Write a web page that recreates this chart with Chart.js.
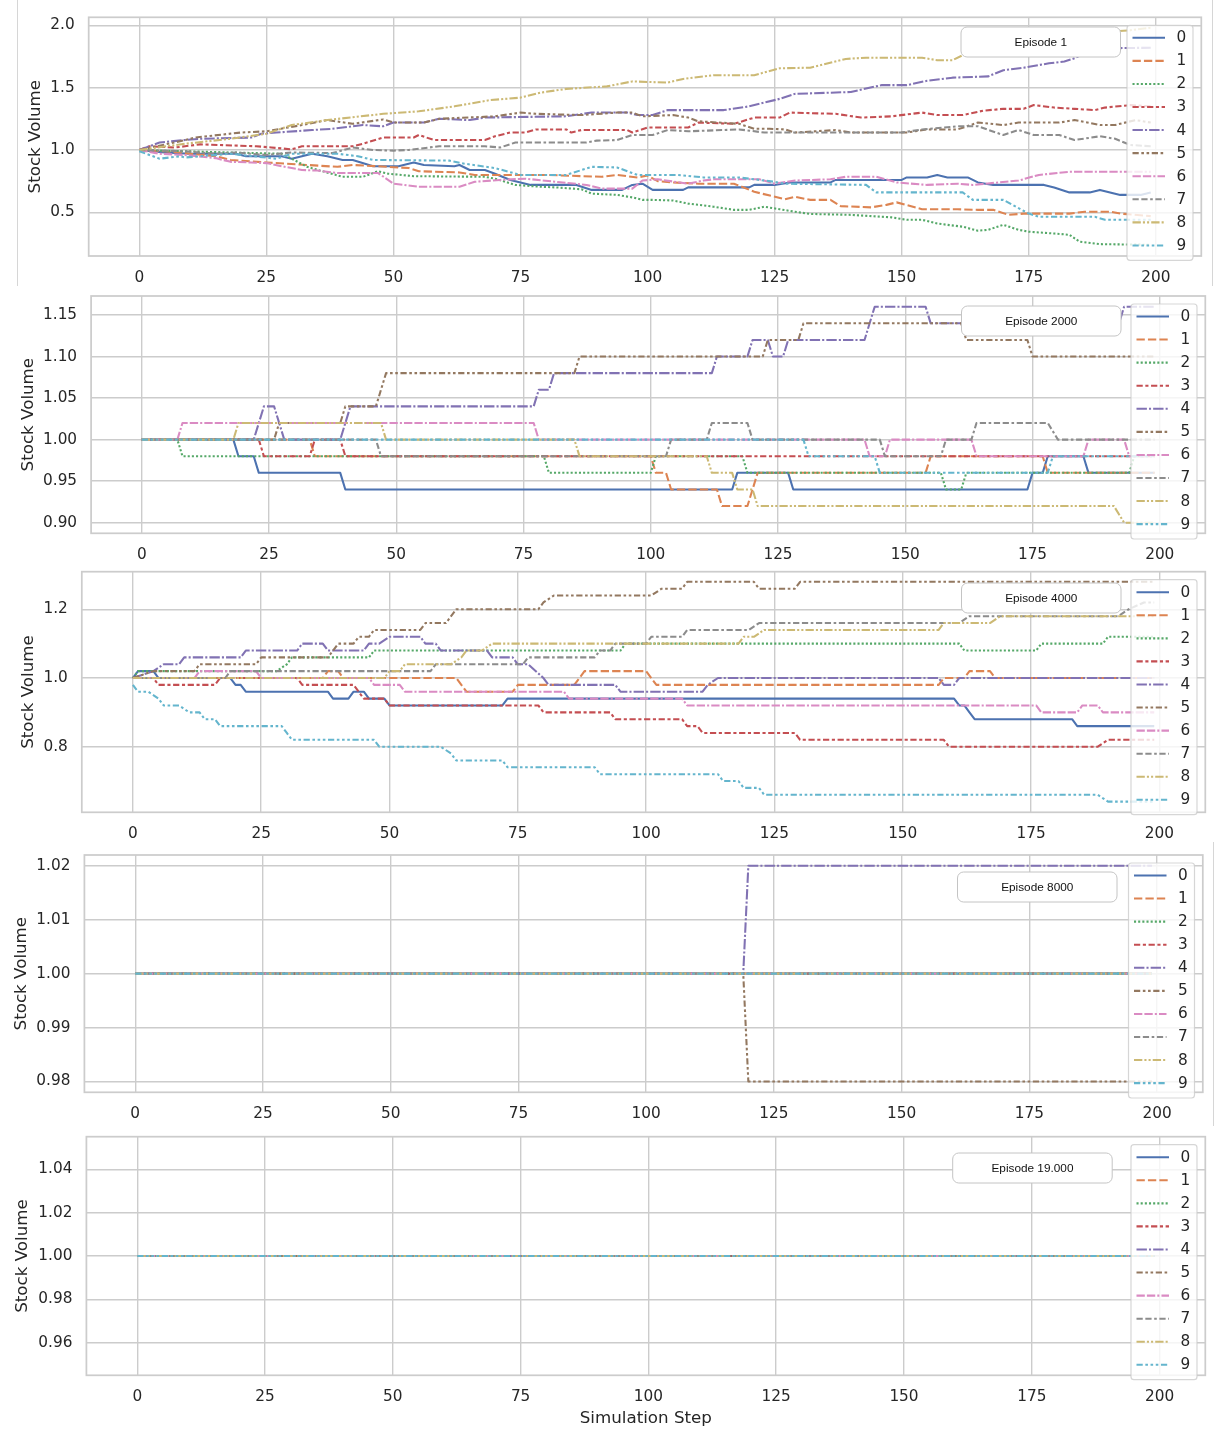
<!DOCTYPE html>
<html><head><meta charset="utf-8">
<script src="https://cdn.jsdelivr.net/npm/chart.js@4.4.1/dist/chart.umd.min.js"></script>
<style>
html,body{margin:0;padding:0;background:#fff;}
body{width:1214px;height:1430px;position:relative;overflow:hidden;}
canvas{position:absolute;left:0;}
.edge{position:absolute;background:#d6d6d6;width:1px;}
</style></head><body>
<div class="edge" style="left:17px;top:0;height:286px"></div>
<div class="edge" style="left:1212px;top:0;height:286px"></div>
<div class="edge" style="left:1213px;top:842px;height:284px"></div>
<canvas id="c0" width="1214" height="287" style="top:0px"></canvas>
<canvas id="c1" width="1214" height="276" style="top:287px"></canvas>
<canvas id="c2" width="1214" height="280" style="top:563px"></canvas>
<canvas id="c3" width="1214" height="282" style="top:843px"></canvas>
<canvas id="c4" width="1214" height="305" style="top:1125px"></canvas>
<script>
// ---------------- DATA ----------------
const seriesNames = ['0','1','2','3','4','5','6','7','8','9'];
const xTicks = [0, 25, 50, 75, 100, 125, 150, 175, 200];
const yTicksEp1 = [0.5, 1.0, 1.5, 2.0];
const yTicksEp2000 = [0.90, 0.95, 1.00, 1.05, 1.10, 1.15];
const yTicksEp4000 = [0.8, 1.0, 1.2];
const yTicksEp8000 = [0.98, 0.99, 1.00, 1.01, 1.02];
const yTicksEp19000 = [0.96, 0.98, 1.00, 1.02, 1.04];
const episodeLabels = ['Episode 1', 'Episode 2000', 'Episode 4000', 'Episode 8000', 'Episode 19.000'];

// vertices [step, stock volume]
const ep1 = [
 [[0,1],[5,0.98],[10,0.97],[19,0.97],[21,0.95],[28,0.95],[30,0.93],[34,0.97],[37,0.95],[40,0.92],[42,0.92],[46,0.87],[51,0.87],[54,0.90],[56,0.88],[62,0.87],[63,0.88],[65,0.84],[68,0.84],[70,0.81],[73,0.76],[77,0.72],[86,0.72],[89,0.68],[95,0.68],[97,0.72],[99,0.73],[101,0.68],[107,0.68],[108,0.70],[120,0.70],[121,0.72],[125,0.72],[128,0.74],[136,0.74],[137,0.76],[150,0.76],[151,0.78],[155,0.78],[157,0.80],[159,0.78],[163,0.78],[165,0.74],[168,0.72],[178,0.72],[180,0.70],[183,0.66],[187,0.66],[189,0.68],[191,0.66],[193,0.64],[197,0.64],[199,0.66]],
 [[0,1],[5,0.99],[9,0.975],[15,0.95],[18,0.92],[25,0.90],[29,0.89],[39,0.865],[42,0.88],[49,0.865],[53,0.855],[55,0.83],[63,0.82],[66,0.80],[80,0.80],[91,0.785],[94,0.80],[98,0.78],[100,0.795],[102,0.75],[105,0.74],[110,0.73],[117,0.73],[121,0.665],[127,0.605],[129,0.625],[132,0.60],[136,0.60],[138,0.55],[144,0.54],[147,0.56],[149,0.58],[154,0.525],[161,0.525],[165,0.52],[168,0.52],[171,0.48],[174,0.49],[183,0.49],[186,0.505],[191,0.505],[193,0.49],[199,0.47]],
 [[0,1],[9,0.99],[18,0.98],[28,0.97],[30,0.93],[33,0.865],[36,0.83],[40,0.785],[44,0.785],[47,0.83],[49,0.81],[54,0.79],[68,0.785],[70,0.77],[74,0.72],[79,0.705],[82,0.70],[87,0.685],[89,0.65],[94,0.64],[97,0.62],[99,0.60],[101,0.60],[105,0.595],[108,0.57],[113,0.545],[117,0.52],[120,0.52],[123,0.545],[126,0.525],[129,0.505],[132,0.487],[140,0.48],[148,0.46],[151,0.44],[154,0.44],[157,0.41],[162,0.385],[165,0.353],[167,0.36],[170,0.40],[173,0.36],[175,0.345],[180,0.33],[183,0.32],[185,0.265],[189,0.245],[199,0.24]],
 [[0,1],[2,1.03],[7,1.02],[9,1.03],[12,1.045],[23,1.03],[26,1.02],[30,1.005],[32,1.03],[42,1.03],[44,1.05],[48,1.10],[54,1.10],[55,1.12],[58,1.08],[68,1.08],[70,1.11],[73,1.14],[76,1.14],[78,1.165],[84,1.165],[85,1.14],[87,1.16],[96,1.16],[97,1.14],[100,1.18],[108,1.18],[110,1.22],[117,1.21],[121,1.26],[126,1.26],[128,1.30],[137,1.29],[142,1.26],[148,1.27],[154,1.30],[157,1.28],[162,1.28],[166,1.315],[170,1.33],[174,1.33],[176,1.36],[180,1.34],[184,1.33],[188,1.32],[190,1.34],[195,1.36],[199,1.35]],
 [[0,1],[4,1.06],[9,1.08],[12,1.09],[22,1.10],[24,1.13],[27,1.14],[34,1.16],[38,1.17],[44,1.20],[48,1.19],[50,1.22],[56,1.22],[59,1.25],[65,1.24],[68,1.26],[84,1.27],[89,1.30],[96,1.30],[98,1.28],[101,1.28],[104,1.32],[115,1.32],[120,1.35],[126,1.41],[129,1.45],[140,1.465],[146,1.52],[151,1.52],[155,1.555],[160,1.58],[167,1.59],[170,1.64],[174,1.66],[179,1.695],[182,1.71],[184,1.735],[186,1.775],[189,1.815],[199,1.82]],
 [[0,1],[8,1.07],[11,1.10],[20,1.14],[25,1.15],[32,1.20],[37,1.24],[42,1.21],[48,1.245],[50,1.22],[56,1.22],[59,1.25],[70,1.27],[75,1.30],[78,1.29],[87,1.28],[94,1.30],[97,1.30],[99,1.27],[105,1.28],[108,1.26],[110,1.23],[118,1.21],[121,1.17],[124,1.17],[127,1.165],[129,1.14],[137,1.16],[140,1.14],[151,1.14],[155,1.165],[161,1.165],[165,1.22],[170,1.20],[173,1.22],[181,1.22],[184,1.24],[189,1.20],[192,1.20],[196,1.24],[199,1.22]],
 [[0,1],[4,0.97],[9,0.96],[15,0.935],[18,0.905],[22,0.90],[25,0.895],[28,0.87],[32,0.84],[35,0.835],[39,0.815],[47,0.815],[50,0.73],[55,0.705],[63,0.705],[66,0.745],[71,0.76],[76,0.77],[88,0.72],[91,0.69],[97,0.69],[99,0.755],[102,0.765],[108,0.73],[111,0.755],[113,0.765],[122,0.765],[125,0.73],[129,0.755],[136,0.765],[139,0.785],[145,0.785],[149,0.74],[155,0.72],[161,0.73],[164,0.72],[173,0.755],[177,0.80],[183,0.825],[199,0.825]],
 [[0,1],[9,0.99],[15,0.97],[19,0.98],[25,0.96],[30,0.98],[38,0.975],[42,1.02],[46,1.0],[50,0.995],[53,1.0],[59,1.03],[68,1.03],[71,1.02],[74,1.06],[88,1.06],[90,1.075],[94,1.08],[97,1.12],[101,1.12],[104,1.16],[108,1.15],[118,1.165],[123,1.14],[150,1.14],[154,1.165],[161,1.19],[165,1.19],[170,1.12],[173,1.16],[176,1.12],[181,1.12],[184,1.08],[189,1.11],[192,1.09],[195,1.04],[199,1.03]],
 [[0,1],[9,1.05],[18,1.09],[25,1.13],[30,1.20],[37,1.24],[48,1.29],[55,1.31],[62,1.35],[69,1.40],[75,1.42],[79,1.46],[84,1.49],[92,1.51],[97,1.55],[104,1.54],[107,1.57],[113,1.60],[121,1.60],[126,1.655],[132,1.66],[139,1.73],[143,1.74],[154,1.74],[157,1.72],[160,1.72],[163,1.78],[168,1.82],[175,1.86],[182,1.90],[188,1.94],[195,1.96],[199,1.98]],
 [[0,0.99],[4,0.93],[8,0.95],[9,0.94],[18,0.97],[27,0.93],[30,0.97],[39,0.97],[43,0.95],[46,0.92],[61,0.915],[64,0.89],[70,0.855],[75,0.80],[84,0.80],[89,0.865],[94,0.86],[98,0.80],[106,0.80],[111,0.78],[118,0.78],[125,0.745],[127,0.73],[143,0.72],[145,0.66],[162,0.66],[164,0.60],[170,0.60],[175,0.49],[177,0.465],[188,0.465],[190,0.44],[199,0.44]]
];

const ep2000 = [
 [[0,1],[18,1],[19,0.98],[22,0.98],[23,0.96],[39,0.96],[40,0.94],[116,0.94],[117,0.96],[127,0.96],[128,0.94],[174,0.94],[175,0.96],[177,0.96],[178,0.98],[185,0.98],[186,0.96],[199,0.96]],
 [[0,1],[33,1],[34,0.98],[100,0.98],[101,0.96],[103,0.96],[104,0.94],[113,0.94],[114,0.92],[119,0.92],[121,0.96],[154,0.96],[155,0.98],[177,0.98],[178,0.96],[199,0.96]],
 [[0,1],[7,1],[8,0.98],[79,0.98],[80,0.96],[100,0.96],[101,0.98],[118,0.98],[119,0.96],[157,0.96],[158,0.94],[161,0.94],[162,0.96],[194,0.96],[195,0.98],[199,0.98]],
 [[0,1],[23,1],[24,0.98],[33,0.98],[34,1],[39,1],[40,0.98],[199,0.98]],
 [[0,1],[22,1],[24,1.04],[26,1.04],[28,1.0],[39,1.0],[41,1.04],[77,1.04],[78,1.06],[80,1.06],[81,1.08],[112,1.08],[113,1.10],[119,1.10],[120,1.12],[123,1.12],[124,1.10],[126,1.10],[127,1.12],[142,1.12],[144,1.16],[154,1.16],[155,1.14],[192,1.14],[193,1.16],[199,1.16]],
 [[0,1],[26,1],[27,1.02],[39,1.02],[40,1.04],[46,1.04],[48,1.08],[85,1.08],[86,1.10],[122,1.10],[123,1.12],[129,1.12],[130,1.14],[161,1.14],[162,1.12],[174,1.12],[175,1.10],[199,1.10]],
 [[0,1],[7,1],[8,1.02],[77,1.02],[78,1.0],[142,1.0],[143,0.98],[146,0.98],[147,1.0],[163,1.0],[164,0.98],[185,0.98],[186,1.0],[193,1.0],[194,0.98],[199,0.98]],
 [[0,1],[46,1],[47,0.98],[103,0.98],[104,1.0],[111,1.0],[112,1.02],[119,1.02],[120,1.0],[145,1.0],[146,0.98],[157,0.98],[158,1.0],[163,1.0],[164,1.02],[178,1.02],[180,1.0],[199,1.0]],
 [[0,1],[18,1],[19,1.02],[47,1.02],[48,1.0],[85,1.0],[86,0.98],[111,0.98],[112,0.96],[116,0.96],[117,0.94],[120,0.94],[121,0.92],[191,0.92],[193,0.90],[199,0.90]],
 [[0,1],[130,1],[131,0.98],[144,0.98],[145,0.96],[178,0.96],[179,0.98],[199,0.98]]
];

const ep4000 = [
 [[0,1],[1,1.02],[4,1.02],[5,1.0],[19,1.0],[20,0.98],[21,0.98],[22,0.96],[38,0.96],[39,0.94],[42,0.94],[43,0.96],[45,0.96],[46,0.94],[49,0.94],[50,0.92],[72,0.92],[73,0.94],[160,0.94],[161,0.92],[162,0.92],[163,0.90],[164,0.88],[183,0.88],[184,0.86],[199,0.86]],
 [[0,1],[37,1],[38,1.02],[40,1.02],[41,1.0],[63,1.0],[64,0.98],[65,0.96],[74,0.96],[75,0.98],[86,0.98],[88,1.02],[100,1.02],[102,0.98],[157,0.98],[158,1.0],[162,1.0],[163,1.02],[167,1.02],[168,1.0],[199,1.0]],
 [[0,1],[1,1.02],[28,1.02],[30,1.04],[31,1.06],[46,1.06],[47,1.08],[95,1.08],[96,1.10],[161,1.10],[162,1.08],[176,1.08],[177,1.10],[189,1.10],[190,1.12],[199,1.12]],
 [[0,1],[4,1],[5,0.98],[16,0.98],[17,1.0],[32,1.0],[33,0.98],[43,0.98],[45,0.94],[49,0.94],[50,0.92],[79,0.92],[80,0.90],[93,0.90],[94,0.88],[107,0.88],[108,0.86],[110,0.86],[111,0.84],[129,0.84],[130,0.82],[158,0.82],[159,0.80],[188,0.80],[190,0.82],[199,0.82]],
 [[0,1],[4,1.02],[6,1.04],[9,1.04],[10,1.06],[21,1.06],[22,1.08],[32,1.08],[33,1.10],[37,1.10],[38,1.08],[45,1.08],[46,1.10],[48,1.10],[50,1.12],[56,1.12],[57,1.10],[59,1.10],[60,1.08],[69,1.08],[70,1.06],[74,1.06],[75,1.04],[77,1.04],[80,1.0],[81,0.98],[94,0.98],[95,0.96],[111,0.96],[112,0.98],[114,1.0],[157,1.0],[158,0.98],[160,0.98],[161,1.0],[199,1.0]],
 [[0,1],[4,1.02],[12,1.02],[13,1.04],[24,1.04],[25,1.06],[38,1.06],[39,1.08],[40,1.10],[43,1.10],[44,1.12],[46,1.12],[47,1.14],[56,1.14],[57,1.16],[61,1.16],[62,1.18],[63,1.20],[79,1.20],[80,1.22],[82,1.24],[101,1.24],[103,1.26],[107,1.26],[108,1.28],[121,1.28],[122,1.26],[129,1.26],[130,1.28],[199,1.28]],
 [[0,1],[12,1],[13,1.02],[24,1.02],[25,1.0],[46,1.0],[47,0.98],[52,0.98],[53,0.96],[84,0.96],[85,0.94],[107,0.94],[108,0.92],[176,0.92],[177,0.90],[184,0.90],[185,0.92],[188,0.92],[189,0.90],[199,0.90]],
 [[0,1],[18,1],[19,1.02],[58,1.02],[59,1.04],[76,1.04],[77,1.06],[90,1.06],[91,1.08],[93,1.08],[94,1.10],[100,1.10],[101,1.12],[107,1.12],[108,1.14],[120,1.14],[122,1.16],[161,1.16],[163,1.18],[192,1.18],[194,1.20],[197,1.22],[199,1.22]],
 [[0,1],[49,1],[50,1.02],[52,1.02],[53,1.04],[62,1.04],[64,1.06],[65,1.08],[68,1.08],[70,1.10],[118,1.10],[119,1.12],[121,1.12],[123,1.14],[157,1.14],[158,1.16],[167,1.16],[169,1.18],[199,1.18]],
 [[0,0.98],[1,0.96],[3,0.96],[5,0.94],[6,0.92],[9,0.92],[11,0.90],[13,0.90],[14,0.88],[16,0.88],[17,0.86],[29,0.86],[30,0.84],[31,0.82],[47,0.82],[48,0.80],[60,0.80],[62,0.78],[63,0.76],[72,0.76],[73,0.74],[90,0.74],[91,0.72],[114,0.72],[115,0.70],[118,0.70],[119,0.68],[122,0.68],[123,0.66],[188,0.66],[190,0.64],[199,0.64]]
];

const ep8000 = [
 [[0,1],[199,1]], [[0,1],[199,1]], [[0,1],[199,1]], [[0,1],[199,1]],
 [[0,1],[119,1],[120,1.02],[199,1.02]],
 [[0,1],[119,1],[120,0.98],[199,0.98]],
 [[0,1],[199,1]], [[0,1],[199,1]], [[0,1],[199,1]], [[0,1],[199,1]]
];

const ep19000 = [
 [[0,1],[199,1]], [[0,1],[199,1]], [[0,1],[199,1]], [[0,1],[199,1]], [[0,1],[199,1]],
 [[0,1],[199,1]], [[0,1],[199,1]], [[0,1],[199,1]], [[0,1],[199,1]], [[0,1],[199,1]]
];

// ---------------- STYLE / LAYOUT ----------------
const colors = ['#4c72b0','#dd8452','#55a868','#c44e52','#8172b3','#937860','#da8bc3','#8c8c8c','#ccb974','#64b5cd'];
const dashUnits = [[],[4,1.5],[1,1],[3,1.25,1.5,1.25],[5,1,1,1],[3,1.25,1.25,1.25,1.25,1.25],[4,1,4,1,1,1],[3,1.25,3,1.25,1.25,1.25],[4,1,1,1,1,1],[3,1.25,1.25,1.25,1.25,1.25,1.25,1.25]];
const LW = 2.08;
const TEXT = '#262626';
const FONT = 'DejaVu Sans';

const panels = [
  {id:'c0', top:0,    H:287, L:88.7, R:1201.3, T:17.3,   B:256.0,  ymin:0.150, ymax:2.064, yt:yTicksEp1,    dec:1, titleX:36,   box:[961,27],    series:ep1,    xTitle:false},
  {id:'c1', top:287,  H:276, L:91.1, R:1205.3, T:296.0,  B:533.3,  ymin:0.8872,ymax:1.1729,yt:yTicksEp2000, dec:2, titleX:28.5, box:[961.5,306], series:ep2000, xTitle:false},
  {id:'c2', top:563,  H:280, L:81.8, R:1205.3, T:571.7,  B:812.3,  ymin:0.609, ymax:1.3095,yt:yTicksEp4000, dec:1, titleX:28.5, box:[961.5,583], series:ep4000, xTitle:false},
  {id:'c3', top:843,  H:282, L:84.4, R:1202.8, T:855.0,  B:1092.3, ymin:0.978, ymax:1.022, yt:yTicksEp8000, dec:2, titleX:21.5, box:[957.5,872], series:ep8000, xTitle:false},
  {id:'c4', top:1125, H:305, L:86.4, R:1205.3, T:1136.7, B:1375.3, ymin:0.945, ymax:1.055, yt:yTicksEp19000,dec:2, titleX:22.7, box:[952.7,1153],series:ep19000,xTitle:true}
];

function roundRect(ctx, x, y, w, h, r) {
  ctx.beginPath();
  ctx.moveTo(x + r, y);
  ctx.lineTo(x + w - r, y);
  ctx.arcTo(x + w, y, x + w, y + r, r);
  ctx.lineTo(x + w, y + h - r);
  ctx.arcTo(x + w, y + h, x + w - r, y + h, r);
  ctx.lineTo(x + r, y + h);
  ctx.arcTo(x, y + h, x, y + h - r, r);
  ctx.lineTo(x, y + r);
  ctx.arcTo(x, y, x + r, y, r);
  ctx.closePath();
}

function overlay(p, idx) {
  return {
    id: 'overlay' + idx,
    afterDatasetsDraw(chart) {
      const ctx = chart.ctx, a = chart.chartArea;
      ctx.save();
      ctx.setLineDash([]);
      ctx.strokeStyle = '#cccccc';
      ctx.lineWidth = 1.74;
      ctx.strokeRect(a.left, a.top, a.right - a.left, a.bottom - a.top);
      // legend
      const lw = 66, lh = 235;
      const lx = a.right - 8.3 - lw, ly = a.top + 8;
      roundRect(ctx, lx, ly, lw, lh, 3);
      ctx.fillStyle = 'rgba(255,255,255,0.8)';
      ctx.fill();
      ctx.strokeStyle = 'rgba(204,204,204,0.8)';
      ctx.lineWidth = 1.2;
      ctx.stroke();
      chart.data.datasets.forEach((ds, i) => {
        const yy = ly + 12.5 + i * 23.07;
        ctx.beginPath();
        ctx.setLineDash(ds.borderDash || []);
        ctx.lineDashOffset = 0;
        ctx.strokeStyle = ds.borderColor;
        ctx.lineWidth = LW;
        ctx.lineCap = 'butt';
        ctx.moveTo(lx + 5.5, yy);
        ctx.lineTo(lx + 38, yy);
        ctx.stroke();
        ctx.setLineDash([]);
        ctx.fillStyle = TEXT;
        ctx.font = '15.3px "' + FONT + '"';
        ctx.textAlign = 'left';
        ctx.textBaseline = 'middle';
        ctx.fillText(ds.label, lx + 49.5, yy + 0.5);
      });
      // episode box
      const bx = p.box[0], by = p.box[1] - p.top, bw = 159.5, bh = 30;
      roundRect(ctx, bx, by, bw, bh, 6);
      ctx.fillStyle = '#ffffff';
      ctx.fill();
      ctx.strokeStyle = '#c4c4c4';
      ctx.lineWidth = 1;
      ctx.stroke();
      ctx.fillStyle = '#111111';
      ctx.font = '11.8px "Liberation Sans", Arial, sans-serif';
      ctx.textAlign = 'center';
      ctx.textBaseline = 'middle';
      ctx.fillText(episodeLabels[idx], bx + bw / 2, by + bh / 2 + 0.5);
      ctx.restore();
    }
  };
}

panels.forEach((p, idx) => {
  const xh = p.top + p.H - p.B;
  const datasets = p.series.map((pts, i) => ({
    label: seriesNames[i],
    data: pts.map(v => ({x: v[0], y: v[1]})),
    borderColor: colors[i],
    borderWidth: LW,
    borderDash: dashUnits[i].map(d => d * LW),
    borderCapStyle: 'butt',
    borderJoinStyle: 'round',
    pointRadius: 0,
    pointHoverRadius: 0,
    tension: 0,
    fill: false,
    order: 9 - i
  }));
  new Chart(document.getElementById(p.id), {
    type: 'line',
    data: {datasets},
    options: {
      responsive: false,
      animation: false,
      devicePixelRatio: 1,
      events: [],
      layout: {padding: {top: p.T - p.top, right: 1214 - p.R, bottom: 0, left: 0}},
      plugins: {legend: {display: false}, tooltip: {enabled: false}, title: {display: false}},
      scales: {
        x: {
          type: 'linear', min: -9.95, max: 208.95,
          afterBuildTicks: s => { s.ticks = xTicks.map(v => ({value: v})); },
          afterFit: s => { s.height = xh; s.paddingLeft = 0; s.paddingRight = 0; s.paddingTop = 0; s.paddingBottom = 0; },
          grid: {color: '#cccccc', lineWidth: 1.39, drawTicks: false},
          border: {display: false},
          ticks: {padding: 13, color: TEXT, font: {family: FONT, size: 15.3}, maxRotation: 0, autoSkip: false,
                  callback: v => String(v)},
          title: {display: p.xTitle, text: 'Simulation Step', color: TEXT,
                  font: {family: FONT, size: 16.7}, padding: {top: 0, bottom: 1.5}}
        },
        y: {
          type: 'linear', min: p.ymin, max: p.ymax,
          afterBuildTicks: s => { s.ticks = p.yt.map(v => ({value: v})); },
          afterFit: s => { s.width = p.L; s.paddingTop = 0; s.paddingBottom = 0; s.paddingLeft = 0; s.paddingRight = 0; },
          grid: {color: '#cccccc', lineWidth: 1.39, drawTicks: false},
          border: {display: false},
          ticks: {padding: 14, color: TEXT, font: {family: FONT, size: 15.3}, autoSkip: false,
                  callback: v => Number(v).toFixed(p.dec)},
          title: {display: true, text: 'Stock Volume', color: TEXT,
                  font: {family: FONT, size: 16.7}, padding: {top: p.titleX - 10.02, bottom: 0}}
        }
      }
    },
    plugins: [overlay(p, idx)]
  });
});
</script>
</body></html>
